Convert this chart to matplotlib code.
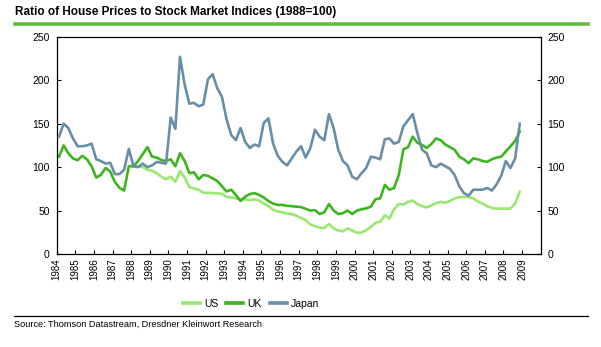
import matplotlib
matplotlib.use("Agg")
import matplotlib.pyplot as plt
from matplotlib.lines import Line2D
import numpy as np

plt.rcParams['font.family'] = ['Liberation Sans', 'DejaVu Sans']

# quarterly ratios, 1984 Q1 - 2008 Q4 (US series starts 1988 Q1)
japan = [135, 150, 145, 133,  124, 124, 125, 127,  109, 107, 104, 105,
         92, 92, 97, 121,  101, 100, 104, 100,  102, 106, 105, 104,
         157, 144, 227, 195,  173, 174, 170, 172,  201, 207, 191, 181,
         155, 137, 131, 145,  129, 122, 126, 124,  151, 156, 127, 113,
         106, 102, 110, 118,  124, 111, 122, 143,  135, 131, 161, 145,
         120, 107, 102, 89,  86, 93, 99, 112,  111, 109, 132, 133,
         127, 129, 147, 154,  161, 139, 120, 116,  102, 100, 104, 101,
         98, 91, 78, 70,  67, 74, 74, 74,  76, 73, 80, 90,
         107, 99, 110, 150]
uk = [112, 125, 116, 110,  108, 113, 109, 101,  88, 91, 99, 95,
      83, 76, 73, 101,  101, 107, 115, 123,  112, 111, 108, 107,
      109, 101, 116, 107,  93, 94, 86, 91,  90, 87, 84, 78,
      72, 74, 68, 61,  66, 69, 70, 68,  65, 61, 58, 56.5,
      56.5, 55.5, 55, 54.5,  54, 52, 50, 50.5,  46, 48, 57.5, 50,
      46, 47, 50, 46,  50, 51.5, 52.5, 54.5,  63, 64, 79.5, 74,
      76, 91, 120.5, 123,  135, 128, 125.5, 122,  126.5, 133, 131, 126,
      123, 120, 112, 109,  104.5, 110, 109, 107,  106, 109, 111, 112,
      118, 124, 130, 141]
us = [101, 101, 100, 97,  96, 93, 89, 86,  89, 83, 95.5, 88,
      77, 75.5, 74, 70.5,  70.5, 70, 70, 69,  66, 65, 64, 63,
      63, 62, 63, 61.5,  58, 55, 51, 49,  48, 46.5, 46, 44,
      41.5, 39, 34, 32,  30.5, 30, 34.5, 29.5,  27, 26, 29.5, 27,
      24.5, 24.5, 27.5, 31,  36, 37, 44.5, 41,  51.5, 57.5, 57, 60,
      61.5, 57.5, 55, 53.5,  56, 58.5, 60, 59,  61, 64, 65.5, 65.5,
      65.5, 64, 60.5, 58,  55, 53, 52, 52.5,  52, 52.5, 58, 71.5]
years = list(range(1984, 2010))

# points sit in the middle of each quarter
quarters = 1984 + (np.arange(len(japan)) + 0.5) / 4
us_x = quarters[len(japan) - len(us):]

c_us = '#99e872'
c_uk = '#3cb51e'
c_jp = '#6a8ea8'

fig = plt.figure(figsize=(6.01, 3.47), dpi=100)
ax = fig.add_axes([0.0943, 0.268, 0.8054, 0.626])

ax.plot(quarters, japan, color=c_jp, lw=1.9, solid_joinstyle='round', zorder=3)
ax.plot(quarters, uk, color=c_uk, lw=1.9, solid_joinstyle='round', zorder=2)
ax.plot(us_x, us, color=c_us, lw=1.9, solid_joinstyle='round', zorder=1)

ax.set_xlim(1984, 2010)
ax.set_ylim(0, 250)
ax.set_yticks(range(0, 251, 50))
ax.set_xticks(years)
ax.set_xticklabels([str(y) for y in years], rotation=90, fontsize=7)
ax.tick_params(axis='y', direction='in', length=3, width=0.8, labelsize=7.5,
               right=True, labelright=True, pad=5)
ax.tick_params(axis='x', direction='in', length=3, width=0.8, pad=3)
for s in ax.spines.values():
    s.set_linewidth(0.9)

# title with green rule underneath
fig.text(0.025, 1 - 12 / 347, 'Ratio of House Prices to Stock Market Indices (1988=100)',
         fontsize=8.5, fontweight='bold', va='center', ha='left')
fig.add_artist(Line2D([0.025, 0.978], [1 - 23.5 / 347] * 2, color='#66bb44', lw=2.6))

handles = [Line2D([], [], color=c, lw=2.6) for c in (c_us, c_uk, c_jp)]
fig.legend(handles, ['US', 'UK', 'Japan'], loc='center', ncol=3, frameon=False,
           bbox_to_anchor=(251 / 601, 1 - 304 / 347), fontsize=7.5, handlelength=1.6,
           handletextpad=0.4, columnspacing=0.8)

fig.add_artist(Line2D([0.023, 0.978], [1 - 316 / 347] * 2, color='black', lw=0.9))
fig.text(0.023, 1 - 324 / 347, 'Source: Thomson Datastream, Dresdner Kleinwort Research',
         fontsize=6.6, va='center', ha='left')

fig.savefig('out.png', dpi=100)
